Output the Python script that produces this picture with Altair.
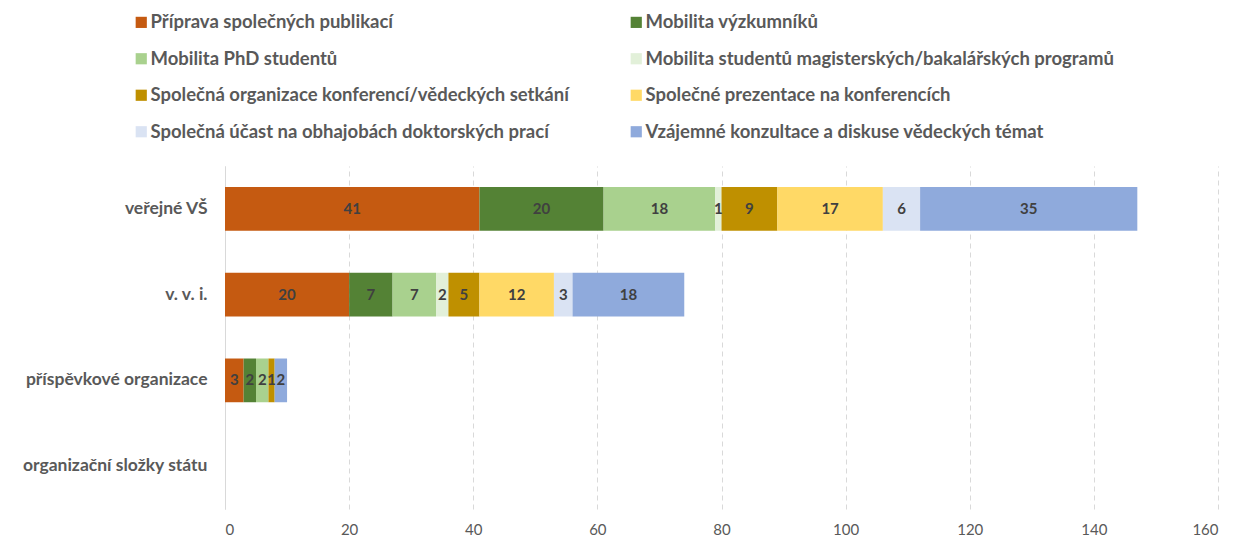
import altair as alt
import pandas as pd

orgs = ["veřejné VŠ", "v. v. i.", "příspěvkové organizace", "organizační složky státu"]
series = [
    "Příprava společných publikací",
    "Mobilita výzkumníků",
    "Mobilita PhD studentů",
    "Mobilita studentů magisterských/bakalářských programů",
    "Společná organizace konferencí/vědeckých setkání",
    "Společné prezentace na konferencích",
    "Společná účast na obhajobách doktorských prací",
    "Vzájemné konzultace a diskuse vědeckých témat",
]
colors = ["#C55A11", "#548235", "#A9D18E", "#E2F0D9", "#BF9000", "#FFD966", "#DAE3F3", "#8FAADC"]
v_publikace = [41, 20, 3, 0]
v_vyzkumnici = [20, 7, 2, 0]
v_phd = [18, 7, 2, 0]
v_mgr = [1, 2, 0, 0]
v_konf_org = [9, 5, 1, 0]
v_prezentace = [17, 12, 0, 0]
v_obhajoby = [6, 3, 0, 0]
v_konzultace = [35, 18, 2, 0]
x_ticks = [0, 20, 40, 60, 80, 100, 120, 140, 160]

all_vals = [v_publikace, v_vyzkumnici, v_phd, v_mgr, v_konf_org, v_prezentace, v_obhajoby, v_konzultace]
rows = []
for si, (s, vals) in enumerate(zip(series, all_vals)):
    for oi, o in enumerate(orgs):
        rows.append({"org": o, "series": s, "idx": si, "value": vals[oi]})
df = pd.DataFrame(rows)

FONT = "Lato"
GRAY = "#595959"

base = alt.Chart(df).transform_stack(
    stack="value", groupby=["org"], as_=["x0", "x1"], sort=[alt.SortField("idx")]
).transform_calculate(mid="(datum.x0 + datum.x1) / 2")

y = alt.Y(
    "org:N",
    scale=alt.Scale(domain=orgs, paddingInner=0.49, paddingOuter=0.245),
    axis=alt.Axis(
        title=None, ticks=False, domain=True, domainColor="#D9D9D9", domainWidth=1,
        labelFont=FONT, labelFontSize=17.5, labelFontWeight="bold", labelColor=GRAY,
        labelPadding=18, minExtent=217, maxExtent=217, labelLimit=300,
    ),
)

bars = base.mark_bar().encode(
    x=alt.X(
        "x0:Q",
        scale=alt.Scale(domain=[0, 160], nice=False),
        axis=alt.Axis(
            title=None, values=x_ticks, ticks=False, domain=False, grid=True,
            gridColor="#D9D9D9", gridDash=[5, 4], gridWidth=1,
            labelFont=FONT, labelFontSize=15, labelColor=GRAY, labelPadding=13,
        ),
    ),
    x2="x1:Q",
    y=y,
    color=alt.Color(
        "series:N",
        scale=alt.Scale(domain=series, range=colors),
        legend=alt.Legend(
            title=None, orient="none", legendX=-93, legendY=-153, columns=2,
            direction="horizontal",
            symbolType="square", symbolSize=125, symbolStrokeWidth=0,
            labelFont=FONT, labelFontSize=18.5, labelFontWeight="bold", labelColor=GRAY,
            labelLimit=700, columnPadding=58, rowPadding=17.5, gridAlign="each",
            labelOffset=0,
        ),
    ),
    order=alt.Order("idx:Q"),
)

labels = base.transform_filter("datum.value > 0").mark_text(
    font=FONT, fontSize=15, fontWeight="bold", color="#404040"
).encode(
    x="mid:Q",
    y=alt.Y("org:N", scale=alt.Scale(domain=orgs)),
    text="value:Q",
)

chart = (bars + labels).properties(
    width=993, height=343, padding={"left": 0, "top": 5, "right": 5, "bottom": 5}
).configure_view(stroke=None)

chart.save("out.html", embed_options={"renderer": "svg", "actions": False})
